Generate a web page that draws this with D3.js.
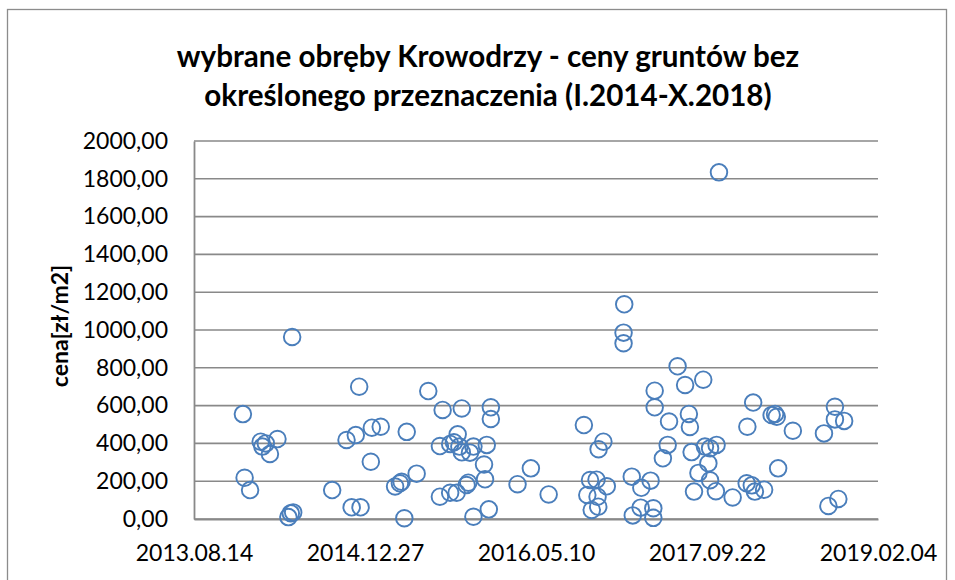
<!DOCTYPE html>
<html>
<head>
<meta charset="utf-8">
<script src="https://cdn.jsdelivr.net/npm/d3@7"></script>
<style>
  body { margin: 0; background: #fff; }
  svg { display: block; font-family: Lato, "Open Sans", sans-serif; }
</style>
</head>
<body>
<svg id="chart" width="955" height="580"></svg>
<script>
// transaction dates, as Excel day serials (41500 = 2013.08.14)
var dateSerial = [
  41643, 41648, 41664, 41695, 41700, 41710, 41722, 41744, 41776, 41783, 41790, 41787,
  41904, 41946, 41961, 41973, 41983, 41987, 42020, 42046, 42017, 42088, 42102, 42107,
  42115, 42122, 42151, 42185, 42219, 42219, 42227, 42249, 42249, 42260, 42268, 42271,
  42276, 42283, 42283, 42297, 42302, 42307, 42317, 42317, 42348, 42351, 42356, 42362,
  42368, 42368,
  42446, 42485, 42537, 42640, 42650, 42658, 42663, 42680, 42677, 42682, 42683, 42697,
  42707, 42758, 42756, 42756, 42780, 42783, 42806, 42808, 42835, 42843, 42843, 42847,
  42847, 42871, 42885, 42889, 42914, 42936, 42947, 42950, 42955, 42962, 42975, 42989,
  42994, 43004, 43009, 43009, 43028, 43026, 43035, 43075, 43116, 43118, 43131, 43135,
  43140, 43167, 43189, 43199, 43204, 43208, 43251, 43342, 43355, 43374, 43374, 43384,
  43401
];
// price in zl/m2, same order as dateSerial
var price = [
  555, 218, 153, 409, 383, 400, 344, 423, 10, 30, 35, 963,
  153, 418, 62, 444, 700, 62, 483, 488, 303, 172, 189, 197,
  4, 461, 240, 677, 386, 118, 577, 397, 139, 406, 139, 448,
  383, 585, 353, 180, 192, 351, 383, 12, 288, 210, 392, 51,
  591, 529,
  184, 268, 130, 497, 127, 206, 48, 118, 208, 65, 369, 409,
  173, 1136, 986, 930, 224, 19, 60, 165, 203, 57, 6, 679,
  591, 321, 392, 516, 808, 709, 556, 487, 354, 145, 244, 737,
  383, 295, 374, 205, 392, 147, 1834, 114, 189, 488, 178, 616,
  145, 155, 550, 556, 541, 268, 467, 453, 69, 594, 527, 106,
  519
];
var xTickSerials = [41500, 42000, 42500, 43000, 43500];
var yTicks = [0, 200, 400, 600, 800, 1000, 1200, 1400, 1600, 1800, 2000];
var titleLines = ["wybrane obręby Krowodrzy - ceny gruntów bez",
                  "określonego przeznaczenia (I.2014-X.2018)"];
var yTitle = "cena[zł/m2]";

function serialToDate(s) {
  return new Date(Date.UTC(1899, 11, 30) + s * 86400000);
}

var points = dateSerial.map(function (s, i) {
  return { date: serialToDate(s), value: price[i] };
});

var svg = d3.select("#chart");
// plot area edges
var plotLeft = 194, plotRight = 878, plotTop = 141, plotBottom = 519;

// outer chart border
svg.append("rect")
  .attr("x", 7.5).attr("y", 9.5)
  .attr("width", 939).attr("height", 600)
  .attr("fill", "#fff")
  .attr("stroke", "#8c8c8c")
  .attr("stroke-width", 1.3);

var x = d3.scaleUtc()
  .domain([serialToDate(41500), serialToDate(43500)])
  .range([plotLeft, plotRight]);

var y = d3.scaleLinear()
  .domain([0, 2000])
  .range([plotBottom, plotTop]);

// horizontal gridlines
svg.append("g")
  .selectAll("line")
  .data(yTicks)
  .enter()
  .append("line")
  .attr("x1", plotLeft).attr("x2", plotRight)
  .attr("y1", function (d) { return y(d); })
  .attr("y2", function (d) { return y(d); })
  .attr("stroke", "#898989")
  .attr("stroke-width", 1.6);

// y axis
var yAxis = d3.axisLeft(y)
  .tickValues(yTicks)
  .tickSize(0)
  .tickPadding(26)
  .tickFormat(function (d) { return d3.format(".2f")(d).replace(".", ","); });
var gy = svg.append("g")
  .attr("transform", "translate(" + plotLeft + ",0)")
  .call(yAxis);
gy.select(".domain").attr("stroke", "#898989").attr("stroke-width", 1.8);
gy.selectAll("text")
  .attr("font-size", 23)
  .attr("font-family", "Lato")
  .attr("fill", "#000");

// x axis
var xAxis = d3.axisBottom(x)
  .tickValues(xTickSerials.map(serialToDate))
  .tickSize(0)
  .tickPadding(26)
  .tickFormat(d3.utcFormat("%Y.%m.%d"));
var gx = svg.append("g")
  .attr("transform", "translate(0," + plotBottom + ")")
  .call(xAxis);
gx.select(".domain").attr("stroke", "#898989").attr("stroke-width", 1.8);
gx.selectAll("text")
  .attr("font-size", 23)
  .attr("font-family", "Lato")
  .attr("fill", "#000");

// points
svg.append("g")
  .selectAll("circle")
  .data(points)
  .enter()
  .append("circle")
  .attr("cx", function (d) { return x(d.date); })
  .attr("cy", function (d) { return y(d.value); })
  .attr("r", 8.3)
  .attr("fill", "none")
  .attr("stroke", "#4a7ebb")
  .attr("stroke-width", 1.9);

// title
svg.append("g")
  .selectAll("text")
  .data(titleLines)
  .enter()
  .append("text")
  .attr("x", 488)
  .attr("y", function (d, i) { return 67 + i * 39; })
  .attr("text-anchor", "middle")
  .attr("font-size", 29.6)
  .attr("font-weight", "bold")
  .attr("fill", "#000")
  .text(function (d) { return d; });

// y axis title
svg.append("text")
  .attr("transform", "translate(68,326) rotate(-90)")
  .attr("text-anchor", "middle")
  .attr("font-size", 23)
  .attr("font-weight", "bold")
  .attr("fill", "#000")
  .text(yTitle);
</script>
</body>
</html>
